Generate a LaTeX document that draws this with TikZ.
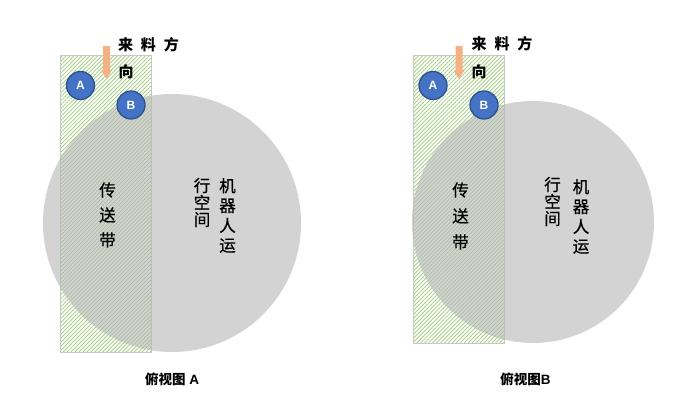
\documentclass[tikz,border=0pt]{standalone}
\usepackage{fontspec}
\setmainfont{Liberation Sans}
\newfontfamily\cjk{Noto Sans CJK SC}
\newfontfamily\cjkmid[FakeBold=0.6]{Noto Sans CJK SC}
\usetikzlibrary{patterns.meta}
\definecolor{hatchgreen}{RGB}{150,202,115}
\definecolor{rimgray}{RGB}{200,200,200}
\definecolor{zonegray}{RGB}{182,182,182}
\definecolor{feedorange}{RGB}{244,177,131}
\definecolor{markfill}{RGB}{68,114,196}
\definecolor{markrim}{RGB}{47,82,143}
\tikzset{
  belt/.style={draw=rimgray, line width=0.9pt, minimum width=91pt, inner sep=0pt,
    anchor=north west,
    pattern={Lines[angle=45,distance=2.8pt,line width=0.7pt]}, pattern color=hatchgreen},
  zone/.style={circle, fill=zonegray, fill opacity=0.6, inner sep=0pt, minimum size=#1},
  marker/.style={circle, fill=markfill, draw=markrim, line width=1.3pt, minimum size=28pt,
    inner sep=0pt, text=white, font=\bfseries\fontsize{12}{12}\selectfont},
  feed/.style={fill=feedorange},
  beltlbl/.style={font=\cjkmid\fontsize{16.5}{25}\selectfont, align=center, inner sep=0pt},
  colA/.style={font=\cjkmid\fontsize{16.5}{17}\selectfont, align=center, inner sep=0pt},
  colB/.style={font=\cjkmid\fontsize{16.5}{19.8}\selectfont, align=center, inner sep=0pt},
  dirlbl/.style={font=\cjk\bfseries\fontsize{15}{15}\selectfont, inner sep=0pt},
  caption/.style={font=\bfseries\fontsize{13.5}{13.5}\selectfont, inner sep=0pt}
}
\newcommand{\feedarrow}[1]{%
  \fill[feed] (#1) ++(-3.5,0) -- ++(7,0) -- ++(0,24.5) -- ++(2,0) -- ++(-5.5,8)
    -- ++(-5.5,-8) -- ++(2,0) -- cycle;}
\begin{document}
\begin{tikzpicture}[x=1pt,y=-1pt]
\useasboundingbox (0,0) rectangle (679,419);
\fill[white] (0,0) rectangle (679,419);

% ---------- view A ----------
\node[belt, minimum height=297pt] (beltA) at (60.5,55) {};
\node[zone=258pt] (zoneA) at (172,223) {};
\node[beltlbl] (beltlblA) at (107.5,215) {传\\送\\带};
\node[colA] (spaceA) at (202,202.5) {行\\空\\间};
\node[colB] (robotA) at (227.5,215.5) {机\\器\\人\\运};
\coordinate (feedA) at (106.5,46);
\feedarrow{feedA}
\node[dirlbl] (dirA1) at (148.5,45) {来\hspace{8pt}料\hspace{8pt}方};
\node[dirlbl] (dirA2) at (126,72) {向};
\node[marker] (markA1) at (80.5,85.5) {A};
\node[marker] (markA2) at (131,105) {B};
\node[caption] (capA) at (172,379) {{\cjk 俯视图} A};

% ---------- view B ----------
\node[belt, minimum height=288pt] (beltB) at (413,55) {};
\node[zone=242pt] (zoneB) at (533,222) {};
\node[beltlbl, font=\cjkmid\fontsize{16.5}{26}\selectfont] (beltlblB) at (460.5,216) {传\\送\\带};
\node[colA] (spaceB) at (552.5,201.5) {行\\空\\间};
\node[colB] (robotB) at (581,216.5) {机\\器\\人\\运};
\coordinate (feedB) at (459,46);
\feedarrow{feedB}
\node[dirlbl] (dirB1) at (502,44) {来\hspace{8pt}料\hspace{8pt}方};
\node[dirlbl] (dirB2) at (479,72) {向};
\node[marker] (markB1) at (433,85.5) {A};
\node[marker] (markB2) at (484,105) {B};
\node[caption] (capB) at (525.5,379) {{\cjk 俯视图}B};
\end{tikzpicture}
\end{document}
